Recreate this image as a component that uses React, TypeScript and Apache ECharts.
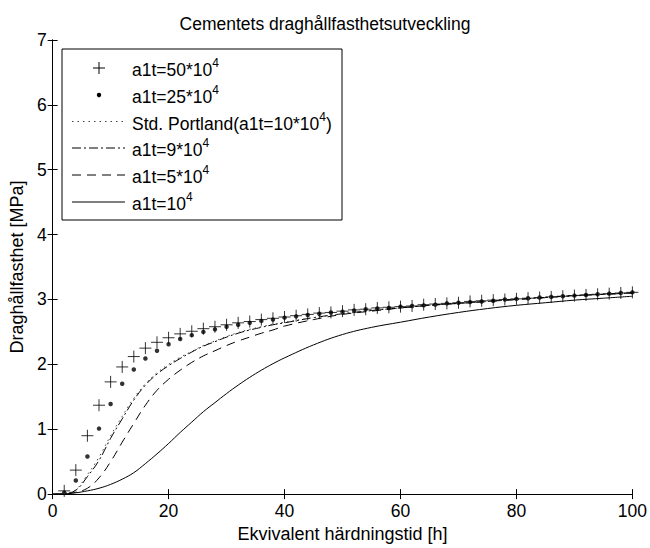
import React, { useEffect, useRef } from 'react';
import * as echarts from 'echarts';

const FONT = '"Liberation Sans", Arial, Helvetica, sans-serif';

const titleText = 'Cementets draghållfasthetsutveckling';
const xName = 'Ekvivalent härdningstid [h]';
const yName = 'Draghållfasthet [MPa]';

// marker series (a1t=50*10^4 and a1t=25*10^4)
const markerX = [2, 4, 6, 8, 10, 12, 14, 16, 18, 20, 22, 24, 26, 28, 30, 32, 34, 36, 38, 40, 42, 44, 46, 48, 50, 52, 54, 56, 58, 60, 62, 64, 66, 68, 70, 72, 74, 76, 78, 80, 82, 84, 86, 88, 90, 92, 94, 96, 98, 100];
const plusY = [0.05, 0.37, 0.9, 1.37, 1.73, 1.96, 2.12, 2.25, 2.34, 2.41, 2.47, 2.51, 2.55, 2.58, 2.61, 2.64, 2.66, 2.69, 2.71, 2.73, 2.75, 2.77, 2.79, 2.8, 2.82, 2.84, 2.85, 2.87, 2.88, 2.89, 2.9, 2.92, 2.93, 2.94, 2.95, 2.97, 2.98, 2.99, 3.0, 3.01, 3.02, 3.03, 3.04, 3.05, 3.06, 3.07, 3.08, 3.09, 3.1, 3.11];
const dotY = [0.02, 0.21, 0.58, 1.01, 1.39, 1.7, 1.92, 2.09, 2.21, 2.31, 2.39, 2.45, 2.5, 2.54, 2.58, 2.61, 2.64, 2.67, 2.69, 2.72, 2.74, 2.76, 2.78, 2.8, 2.81, 2.83, 2.85, 2.86, 2.87, 2.89, 2.9, 2.91, 2.92, 2.94, 2.95, 2.96, 2.97, 2.98, 3.0, 3.01, 3.02, 3.03, 3.04, 3.05, 3.06, 3.07, 3.08, 3.09, 3.1, 3.11];

// line series
const lineX = [0, 2, 4, 6, 8, 10, 12, 14, 16, 18, 20, 22, 24, 26, 28, 30, 32, 34, 36, 38, 40, 45, 50, 55, 60, 65, 70, 75, 80, 85, 90, 95, 100];
const portlandY = [0, 0.01, 0.07, 0.3, 0.57, 0.9, 1.2, 1.48, 1.7, 1.87, 2.0, 2.11, 2.2, 2.29, 2.36, 2.43, 2.49, 2.54, 2.58, 2.62, 2.65, 2.72, 2.78, 2.83, 2.87, 2.91, 2.94, 2.97, 3.0, 3.03, 3.06, 3.08, 3.1];
const a9Y = [0, 0.01, 0.06, 0.27, 0.52, 0.86, 1.16, 1.45, 1.68, 1.85, 1.98, 2.09, 2.19, 2.28, 2.35, 2.42, 2.48, 2.53, 2.57, 2.61, 2.64, 2.72, 2.78, 2.83, 2.87, 2.91, 2.94, 2.97, 3.0, 3.03, 3.06, 3.08, 3.1];
const a5Y = [0, 0.005, 0.03, 0.09, 0.25, 0.5, 0.8, 1.09, 1.37, 1.6, 1.77, 1.91, 2.03, 2.13, 2.21, 2.29, 2.36, 2.42, 2.48, 2.53, 2.59, 2.69, 2.77, 2.82, 2.87, 2.91, 2.94, 2.97, 3.0, 3.03, 3.06, 3.08, 3.1];
const a1Y = [0, 0.005, 0.02, 0.05, 0.09, 0.15, 0.23, 0.33, 0.47, 0.62, 0.78, 0.95, 1.11, 1.27, 1.41, 1.55, 1.68, 1.8, 1.91, 2.01, 2.1, 2.3, 2.46, 2.57, 2.65, 2.73, 2.8, 2.86, 2.91, 2.95, 2.99, 3.02, 3.05];

const legendLabels = [
  '{a|a1t=50*10}{s|4}',
  '{a|a1t=25*10}{s|4}',
  '{a|Std. Portland(a1t=10*10}{s|4}{a|)}',
  '{a|a1t=9*10}{s|4}',
  '{a|a1t=5*10}{s|4}',
  '{a|a1t=10}{s|4}',
];

const zip = (xs: number[], ys: number[]) => xs.map((x, i) => [x, ys[i]]);

const DOTTED = [1.5, 4];
const DASHDOT = [9, 3, 2, 3];
const DASHED = [9, 6];
const FS = 17.5;

function buildOption() {
  const axisCommon = {
    type: 'value' as const,
    axisLine: { show: true, lineStyle: { color: '#000', width: 1 } },
    axisTick: { show: true, inside: true, length: 5, lineStyle: { color: '#000' } },
    splitLine: { show: false },
  };
  const rows = [68, 95, 121.5, 148, 175, 202];
  const lx1 = 72, lx2 = 125, mx = 99, tx = 132;
  const rich = {
    a: { fontSize: FS, fontFamily: FONT, lineHeight: 22, verticalAlign: 'bottom', fill: '#000' },
    s: { fontSize: 12, fontFamily: FONT, lineHeight: 13, verticalAlign: 'top', fill: '#000' },
  };
  const legendElems: any[] = [
    { type: 'rect', z: 100, shape: { x: 62, y: 49, width: 280, height: 171 }, style: { fill: '#fff', stroke: '#000', lineWidth: 1 } },
    { type: 'line', z: 101, shape: { x1: mx - 6, y1: rows[0], x2: mx + 6, y2: rows[0] }, style: { stroke: '#000', lineWidth: 1 } },
    { type: 'line', z: 101, shape: { x1: mx, y1: rows[0] - 6, x2: mx, y2: rows[0] + 6 }, style: { stroke: '#000', lineWidth: 1 } },
    { type: 'circle', z: 101, shape: { cx: mx, cy: rows[1], r: 2.2 }, style: { fill: '#000' } },
    { type: 'line', z: 101, shape: { x1: lx1, y1: rows[2], x2: lx2, y2: rows[2] }, style: { stroke: '#444', lineWidth: 1, lineDash: DOTTED } },
    { type: 'line', z: 101, shape: { x1: lx1, y1: rows[3], x2: lx2, y2: rows[3] }, style: { stroke: '#000', lineWidth: 1, lineDash: DASHDOT } },
    { type: 'line', z: 101, shape: { x1: lx1, y1: rows[4], x2: lx2, y2: rows[4] }, style: { stroke: '#000', lineWidth: 1, lineDash: DASHED } },
    { type: 'line', z: 101, shape: { x1: lx1, y1: rows[5], x2: lx2, y2: rows[5] }, style: { stroke: '#000', lineWidth: 1 } },
  ];
  legendLabels.forEach((t, i) => {
    legendElems.push({
      type: 'text', z: 102, x: tx, y: rows[i],
      style: { text: t, rich, verticalAlign: 'middle', align: 'left', fill: '#000' },
    });
  });

  return {
    animation: false,
    backgroundColor: '#fff',
    textStyle: { fontFamily: FONT },
    title: {
      text: titleText, left: 'center', top: 10,
      textStyle: { fontSize: FS, fontWeight: 'normal', color: '#000', fontFamily: FONT },
    },
    grid: { left: 48, right: 15, top: 40, bottom: 46, containLabel: false },
    xAxis: [
      {
        ...axisCommon, position: 'bottom', min: 0, max: 100, interval: 20,
        axisLabel: { color: '#000', fontSize: FS, fontFamily: FONT, margin: 8 },
        name: xName, nameLocation: 'middle', nameGap: 29,
        nameTextStyle: { color: '#000', fontSize: 18, fontFamily: FONT },
      },
      { ...axisCommon, position: 'top', min: 0, max: 100, interval: 20, axisLabel: { show: false } },
    ],
    yAxis: [
      {
        ...axisCommon, position: 'left', min: 0, max: 7, interval: 1,
        axisLabel: { color: '#000', fontSize: FS, fontFamily: FONT, margin: 6 },
        name: yName, nameLocation: 'middle', nameGap: 22,
        nameTextStyle: { color: '#000', fontSize: 18, fontFamily: FONT },
      },
      { ...axisCommon, position: 'right', min: 0, max: 7, interval: 1, axisLabel: { show: false } },
    ],
    series: [
      {
        type: 'line', name: 'a1t=10^4', data: zip(lineX, a1Y), smooth: 0.4, showSymbol: false,
        lineStyle: { color: '#000', width: 1 },
      },
      {
        type: 'line', name: 'a1t=5*10^4', data: zip(lineX, a5Y), smooth: 0.4, showSymbol: false,
        lineStyle: { color: '#000', width: 1, type: DASHED },
      },
      {
        type: 'line', name: 'a1t=9*10^4', data: zip(lineX, a9Y), smooth: 0.4, showSymbol: false,
        lineStyle: { color: '#000', width: 1, type: DASHDOT },
      },
      {
        type: 'line', name: 'Std. Portland', data: zip(lineX, portlandY), smooth: 0.4, showSymbol: false,
        lineStyle: { color: '#444', width: 1, type: DOTTED },
      },
      {
        type: 'scatter', name: 'a1t=25*10^4', data: zip(markerX, dotY), symbol: 'circle', symbolSize: 4.5,
        itemStyle: { color: '#000' },
      },
      {
        type: 'scatter', name: 'a1t=50*10^4', data: zip(markerX, plusY),
        symbol: 'path://M5,0L5,10M0,5L10,5', symbolSize: 12,
        itemStyle: { color: 'none', borderColor: '#000', borderWidth: 1 },
      },
    ],
    graphic: legendElems,
  };
}

export default function App() {
  const ref = useRef<HTMLDivElement>(null);
  useEffect(() => {
    const chart = echarts.init(ref.current!, null, { renderer: 'svg' });
    chart.setOption(buildOption() as any);
    return () => chart.dispose();
  }, []);
  return (
    <div
      ref={ref}
      style={{ position: 'fixed', left: 0, top: 0, width: 650, height: 548, background: '#fff' }}
    />
  );
}
